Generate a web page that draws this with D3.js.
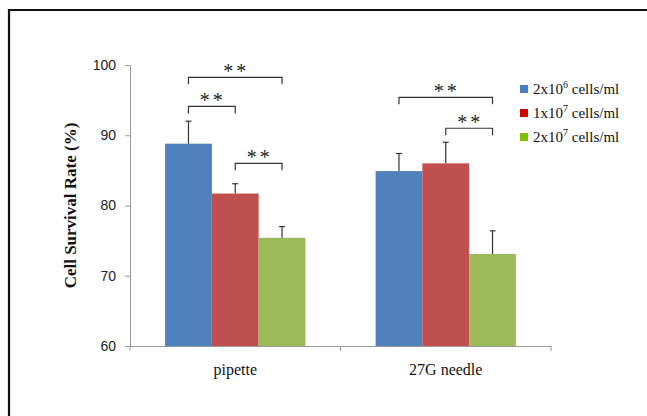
<!DOCTYPE html>
<html><head><meta charset="utf-8">
<script src="https://cdn.jsdelivr.net/npm/d3@7"></script>
<style>body{margin:0;background:#fff}svg{display:block}</style>
</head><body>
<svg id="c" width="647" height="416"></svg>
<script>
const categories = ["pipette", "27G needle"];
const series = ["2x10^6", "1x10^7", "2x10^7"];
const seriesBase = ["2x10", "1x10", "2x10"];
const seriesExp = ["6", "7", "7"];
const means = [[88.8, 81.7, 75.4], [84.9, 86.0, 73.1]];
const errors = [[3.2, 1.4, 1.6], [2.5, 3.0, 3.3]];
const yTicks = [60, 70, 80, 90, 100];
// significance brackets: [category index, from series, to series, level]
const brackets = [[0, 0, 2, 98.25], [0, 0, 1, 94.1], [0, 1, 2, 86.0], [1, 0, 2, 95.4], [1, 1, 2, 91.0]];
const barColors = ["#4F81BD", "#C0504D", "#9BBB59"];
const legendColors = ["#4A7EC2", "#D00000", "#7FBE00"];

(function () {
const SERIF = "'Liberation Serif'";
const SANS = "'Liberation Sans'";
const svg = d3.select("#c");
const pl = 130, pr = 551, pt = 65, pb = 346;
const y = d3.scaleLinear().domain([60, 100]).range([pb, pt]);
const x0 = d3.scaleBand().domain(categories).range([pl, pr]);
const bw = x0.bandwidth();
const x1 = d3.scaleBand().domain(series).range([bw / 6, bw * 5 / 6]);

// frame
svg.append("path").attr("d", "M9,416V10H647").attr("fill", "none").attr("stroke", "#111").attr("stroke-width", 2.2);

// bars
const g = svg.append("g");
categories.forEach((c, ci) => {
  series.forEach((s, si) => {
    const xb = x0(c) + x1(s);
    g.append("rect").attr("x", xb).attr("width", x1.bandwidth())
      .attr("y", y(means[ci][si])).attr("height", y(60) - y(means[ci][si]))
      .attr("fill", barColors[si]);
    const cx = xb + x1.bandwidth() / 2;
    const yt = y(means[ci][si] + errors[ci][si]);
    g.append("line").attr("x1", cx).attr("x2", cx).attr("y1", y(means[ci][si])).attr("y2", yt)
      .attr("stroke", "#333").attr("stroke-width", 1.2);
    g.append("line").attr("x1", cx - 3).attr("x2", cx + 3).attr("y1", yt).attr("y2", yt)
      .attr("stroke", "#333").attr("stroke-width", 1.2);
  });
});

// axes
const ya = svg.append("g").attr("transform", `translate(${pl},0)`)
  .call(d3.axisLeft(y).tickValues(yTicks).tickSize(5).tickSizeOuter(0).tickPadding(9));
ya.select(".domain").attr("stroke", "#9a9a9a");
ya.selectAll(".tick line").attr("stroke", "#9a9a9a");
ya.selectAll(".tick text").style("font-family", SANS).style("font-size", "14px").attr("fill", "#222");

const xa = svg.append("g").attr("transform", `translate(0,${pb})`)
  .call(d3.axisBottom(x0).tickSize(0).tickSizeOuter(0).tickPadding(18));
xa.select(".domain").attr("stroke", "#9a9a9a");
xa.selectAll(".tick text").style("font-family", SERIF).style("font-size", "16px").attr("fill", "#111");
[pl, pl + bw, pr].forEach(v => {
  svg.append("line").attr("x1", v).attr("x2", v).attr("y1", pb).attr("y2", pb + 5).attr("stroke", "#9a9a9a");
});

// y title
svg.append("text").attr("transform", `translate(76,${(pt + pb) / 2}) rotate(-90)`)
  .attr("text-anchor", "middle").style("font-family", SERIF).style("font-weight", "bold").style("font-size", "17px")
  .attr("fill", "#111").text("Cell Survival Rate (%)");

// brackets
brackets.forEach(([ci, a, b, lvl]) => {
  const xa_ = x0(categories[ci]) + x1(series[a]) + x1.bandwidth() / 2;
  const xb_ = x0(categories[ci]) + x1(series[b]) + x1.bandwidth() / 2;
  const yl = y(lvl);
  svg.append("path").attr("d", `M${xa_},${yl + 7}V${yl}H${xb_}V${yl + 7}`)
    .attr("fill", "none").attr("stroke", "#333").attr("stroke-width", 1.2);
  svg.append("text").attr("x", (xa_ + xb_) / 2 + 1).attr("y", yl + 1).attr("text-anchor", "middle")
    .style("font-family", SERIF).style("font-size", "20px").attr("letter-spacing", 3).attr("fill", "#222").text("**");
});

// legend
series.forEach((s, i) => {
  const ly = 89 + i * 24;
  svg.append("rect").attr("x", 520).attr("y", ly - 4).attr("width", 8).attr("height", 8).attr("fill", legendColors[i]);
  const t = svg.append("text").attr("x", 533).attr("y", ly + 5)
    .style("font-family", SERIF).style("font-size", "15px").attr("fill", "#111");
  t.append("tspan").text(seriesBase[i]);
  t.append("tspan").attr("dy", -6).style("font-size", "10px").text(seriesExp[i]);
  t.append("tspan").attr("dy", 6).text(" cells/ml");
});
})();
</script>
</body></html>
